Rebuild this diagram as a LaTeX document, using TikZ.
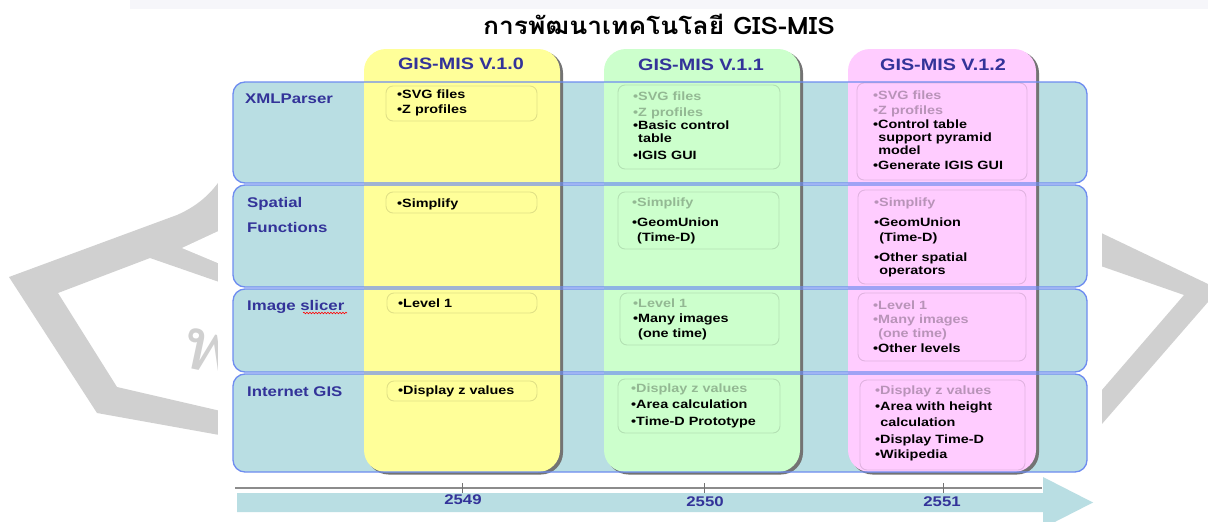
\documentclass[tikz,border=0pt]{standalone}
\usepackage{fontspec}
\setmainfont{Liberation Sans}[FakeStretch=1.2]
\newfontfamily\thaifont[Script=Thai,FakeStretch=1.1]{Loma}
\usetikzlibrary{decorations.pathmorphing}
\definecolor{rowfill}{RGB}{185,222,227}
\definecolor{rowline}{RGB}{110,140,240}
\definecolor{ycol}{RGB}{255,255,153}
\definecolor{gcol}{RGB}{204,255,204}
\definecolor{pcol}{RGB}{255,204,255}
\definecolor{navy}{RGB}{51,51,153}
\definecolor{wm}{RGB}{208,208,208}
\definecolor{topstrip}{RGB}{246,246,250}
\tikzset{
  item/.style={font=\bfseries\fontsize{12}{14}\selectfont, anchor=base west, inner sep=0pt},
  dim/.style={item, text opacity=0.28},
  rowlabel/.style={font=\bfseries\fontsize{14}{16}\selectfont, text=navy, anchor=base west, inner sep=0pt},
  head/.style={font=\bfseries\fontsize{16.5}{18}\selectfont, text=navy, inner sep=0pt},
  year/.style={font=\bfseries\fontsize{14}{15}\selectfont, text=navy, inner sep=0pt},
  ibox/.style={draw=black, draw opacity=0.12, rounded corners=7pt, line width=0.9pt},
  rowborder/.style={draw=rowline, rounded corners=12pt, line width=1.3pt},
  colshape/.style={rounded corners=22pt},
}
\begin{document}
\begin{tikzpicture}[x=1pt,y=-1pt]
\useasboundingbox (0,0) rectangle (1208,522);
\fill[white] (0,0) rectangle (1208,522);
\fill[topstrip] (130,0) rectangle (1208,9);
% watermark left
\fill[wm, even odd rule] (9,277) -- (177,215) .. controls (200,205) and (215,190) .. (225,172) -- (225,436) -- (97,413) -- cycle
  (58,293) -- (150,258) -- (225,284) -- (225,412) -- (117,387) -- cycle;
\fill[white] (182,248) -- (225,228) -- (225,266) -- cycle;
\node[text=wm, font=\thaifont\fontsize{72}{72}\selectfont, rotate=-12, inner sep=0pt] (wmletter) at (210,352) {พ};
% watermark right
\fill[wm, even odd rule] (1095,230) -- (1208,284) -- (1208,302) -- (1095,432) -- cycle
  (1095,264) -- (1184,295) -- (1095,398) -- cycle;
% white diagram area
\fill[white] (218,40) rectangle (1102,522);
% title
\node[font=\thaifont\bfseries\fontsize{24}{26}\selectfont, inner sep=0pt] (title) at (659,24) {การพัฒนาเทคโนโลยี GIS-MIS};
% rows fill
\foreach \a/\b in {82/183,185/287,289/372,374/472}
  \fill[rowfill, rounded corners=12pt] (233,\a) rectangle (1087,\b);
% columns with shadows
\fill[black!55, colshape] (366.5,51) rectangle (563,474.5);
\fill[ycol, colshape] (364,49) rectangle (560,472);
\fill[black!55, colshape] (606.5,51) rectangle (803,474.5);
\fill[gcol, colshape] (604,49) rectangle (800,472);
\fill[black!55, colshape] (850.5,51) rectangle (1039,474.5);
\fill[pcol, colshape] (848,49) rectangle (1036,472);
% row borders
\foreach \a/\b in {82/183,185/287,289/372,374/472}
  \draw[rowborder] (233,\a) rectangle (1087,\b);
% headers
\node[head] (h0) at (461,64) {GIS-MIS V.1.0};
\node[head] (h1) at (701,65) {GIS-MIS V.1.1};
\node[head] (h2) at (943,65) {GIS-MIS V.1.2};
% row labels
\node[rowlabel] (l1) at (245,103) {XMLParser};
\node[rowlabel] (l2a) at (247,207) {Spatial};
\node[rowlabel] (l2b) at (247,232) {Functions};
\node[rowlabel] (l3) at (247,310) {Image slicer};
\draw[red, line width=0.6pt, decorate, decoration={snake, amplitude=0.8pt, segment length=3pt}] (303,313) -- (347,313);
\node[rowlabel] (l4) at (247,396) {Internet GIS};
% inner boxes
\draw[ibox] (386,86) rectangle (537,121);
\draw[ibox] (386,192) rectangle (537,213);
\draw[ibox] (387,293) rectangle (537,313);
\draw[ibox] (387,381) rectangle (537,401);
\draw[ibox] (618,85) rectangle (780,169);
\draw[ibox] (618,192) rectangle (779,249);
\draw[ibox] (620,293) rectangle (779,345);
\draw[ibox] (618,379) rectangle (780,433);
\draw[ibox] (857,83) rectangle (1027,180);
\draw[ibox] (858,190) rectangle (1026,284);
\draw[ibox] (858,293) rectangle (1026,361);
\draw[ibox] (860,380) rectangle (1025,470);
% V1.0 items
\node[item] (y1a) at (397,98) {•SVG files};
\node[item] (y1b) at (397,113) {•Z profiles};
\node[item] (y2a) at (397,207) {•Simplify};
\node[item] (y3a) at (398,307) {•Level 1};
\node[item] (y4a) at (398,394) {•Display z values};
% V1.1 items
\node[dim] (g1a) at (633,100) {•SVG files};
\node[dim] (g1b) at (633,116) {•Z profiles};
\node[item] (g1c) at (633,129) {•Basic control};
\node[item] (g1d) at (633,142) {\phantom{•}table};
\node[item] (g1e) at (633,159) {•IGIS GUI};
\node[dim] (g2a) at (632,206) {•Simplify};
\node[item] (g2b) at (632,226) {•GeomUnion};
\node[item] (g2c) at (632,241) {\phantom{•}(Time-D)};
\node[dim] (g3a) at (633,307) {•Level 1};
\node[item] (g3b) at (633,322) {•Many images};
\node[item] (g3c) at (633,337) {\phantom{•}(one time)};
\node[dim] (g4a) at (631,392) {•Display z values};
\node[item] (g4b) at (631,408) {•Area calculation};
\node[item] (g4c) at (631,425) {•Time-D Prototype};
% V1.2 items
\node[dim] (p1a) at (873,99) {•SVG files};
\node[dim] (p1b) at (873,114) {•Z profiles};
\node[item] (p1c) at (873,128) {•Control table};
\node[item] (p1d) at (873,141) {\phantom{•}support pyramid};
\node[item] (p1e) at (873,154) {\phantom{•}model};
\node[item] (p1f) at (873,169) {•Generate IGIS GUI};
\node[dim] (p2a) at (874,206) {•Simplify};
\node[item] (p2b) at (874,226) {•GeomUnion};
\node[item] (p2c) at (874,241) {\phantom{•}(Time-D)};
\node[item] (p2d) at (874,261) {•Other spatial};
\node[item] (p2e) at (874,274) {\phantom{•}operators};
\node[dim] (p3a) at (873,309) {•Level 1};
\node[dim] (p3b) at (873,323) {•Many images};
\node[dim] (p3c) at (873,337) {\phantom{•}(one time)};
\node[item] (p3d) at (873,352) {•Other levels};
\node[dim] (p4a) at (875,394) {•Display z values};
\node[item] (p4b) at (875,410) {•Area with height};
\node[item] (p4c) at (875,426) {\phantom{•}calculation};
\node[item] (p4d) at (875,443) {•Display Time-D};
\node[item] (p4e) at (875,458) {•Wikipedia};
% timeline
\fill[rowfill] (237,493) -- (1043,493) -- (1043,477) -- (1093,502.5) -- (1043,528) -- (1043,512) -- (237,512) -- cycle;
\coordinate (tl0) at (235,488);
\coordinate (tl1) at (1042,488);
\draw[black!45, line width=2pt] (tl0) -- (tl1);
\foreach \x in {462,704,943}
  \draw[black!55, line width=1pt] (\x,483) -- (\x,493);
\node[year] (y49) at (463,500) {2549};
\node[year] (y50) at (705,502) {2550};
\node[year] (y51) at (942,502) {2551};
\end{tikzpicture}
\end{document}
